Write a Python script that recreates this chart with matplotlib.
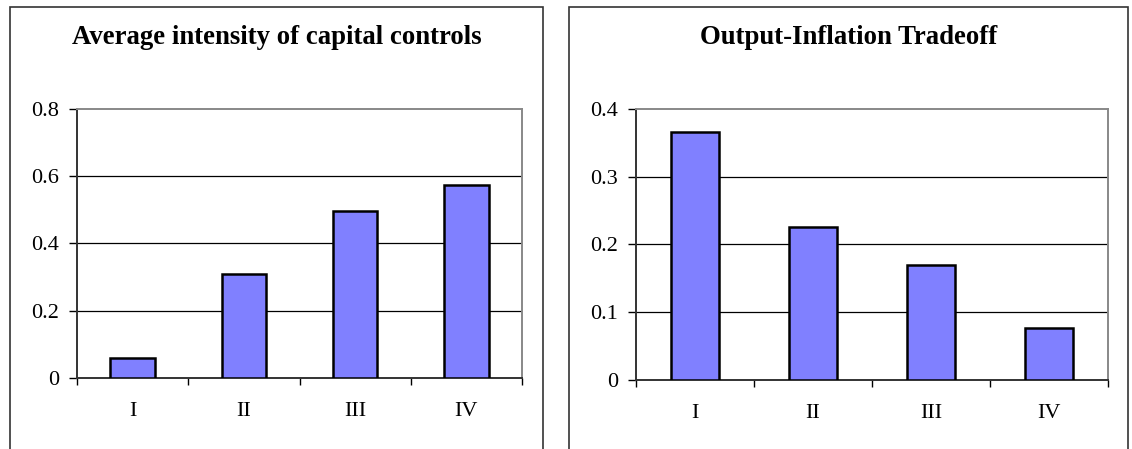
import numpy as np
import matplotlib.pyplot as plt
from matplotlib.patches import Rectangle

plt.rcParams['font.family'] = ['Liberation Serif', 'DejaVu Serif']

categories = ["I", "II", "III", "IV"]
controls = [0.06, 0.31, 0.495, 0.575]
tradeoff = [0.365, 0.226, 0.169, 0.076]

W, H = 1132, 449
fig = plt.figure(figsize=(W / 100, H / 100), dpi=100)


def px(x0, y0, x1, y1):
    # pixel box (top-left origin) -> figure fraction [l, b, w, h]
    return [x0 / W, 1 - y1 / H, (x1 - x0) / W, (y1 - y0) / H]


def panel(box, axbox, title, values, ymax, ystep):
    bx0, by0, bx1 = box
    fig.patches.append(Rectangle((bx0 / W, -0.1), (bx1 - bx0) / W, 1 - by0 / H + 0.1,
                                 transform=fig.transFigure, fill=False,
                                 edgecolor="#333333", linewidth=1.2, zorder=0))
    fig.text(((bx0 + bx1) / 2) / W, 1 - 38 / H, title, ha="center", va="center",
             fontsize=19.3, fontweight="bold")

    ax = fig.add_axes(px(*axbox))
    x = np.arange(len(categories))
    ax.bar(x, values, width=0.4, color="#8080FF", edgecolor="black",
           linewidth=1.8, zorder=3)
    ax.set_xlim(-0.5, len(categories) - 0.5)
    ax.set_ylim(0, ymax)
    yt = np.round(np.arange(0, ymax + ystep / 2, ystep), 2)
    ax.set_yticks(yt)
    ax.set_yticklabels(["0" if v == 0 else "{:g}".format(v) for v in yt])
    for v in yt[1:-1]:
        ax.axhline(v, color="black", linewidth=0.9, zorder=1)
    ax.set_xticks(x)
    ax.set_xticklabels(categories)
    ax.set_xticks(np.arange(-0.5, len(categories)), minor=True)
    ax.tick_params(axis="x", which="major", length=0, pad=17, labelsize=16)
    ax.tick_params(axis="x", which="minor", length=5, width=1, direction="out")
    ax.tick_params(axis="y", length=6, width=1, direction="out", pad=7, labelsize=16)
    for s in ["left", "bottom"]:
        ax.spines[s].set_color("#333333")
        ax.spines[s].set_linewidth(1.4)
    for s in ["top", "right"]:
        ax.spines[s].set_color("#888888")
        ax.spines[s].set_linewidth(1.4)
    return ax


panel((10, 7, 543), (77, 108.7, 522, 378.3),
      "Average intensity of capital controls", controls, 0.8, 0.2)
panel((569, 7, 1128), (636, 108.7, 1108, 380),
      "Output-Inflation Tradeoff", tradeoff, 0.4, 0.1)

fig.savefig("out.png", dpi=100)
